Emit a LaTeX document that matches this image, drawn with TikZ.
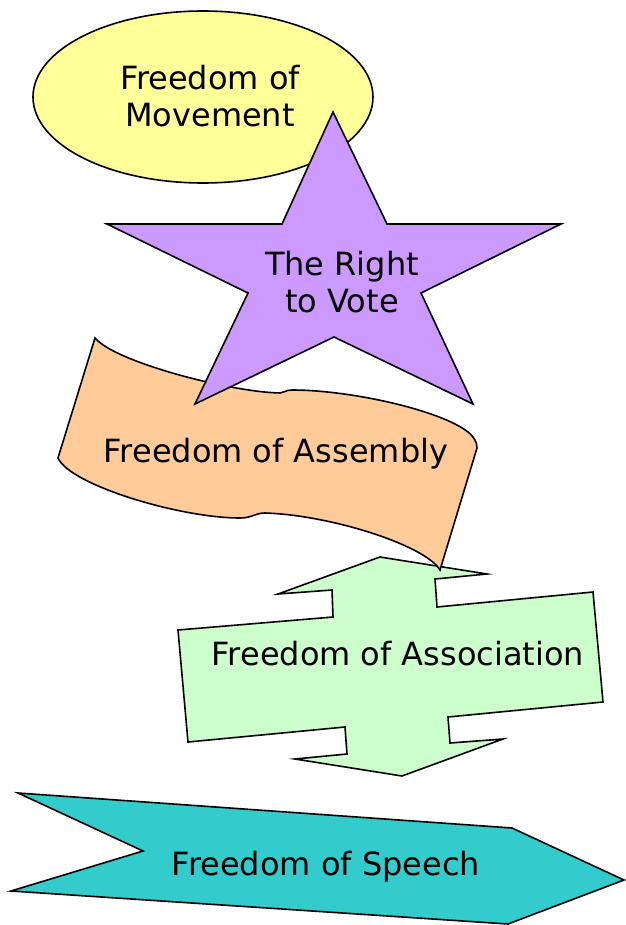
\documentclass[tikz,border=0pt]{standalone}
\usepackage{fontspec}
\setmainfont{DejaVu Sans}
\definecolor{yellowc}{HTML}{FFFF99}
\definecolor{purplec}{HTML}{CC99FF}
\definecolor{orangec}{HTML}{FFCC99}
\definecolor{greenc}{HTML}{CCFFCC}
\definecolor{cyanc}{HTML}{33CCCC}
\begin{document}
\begin{tikzpicture}[x=1pt,y=-1pt,
  shp/.style={draw=black, line width=1.6pt, line join=miter},
  lbl/.style={font=\fontsize{32}{37.5}\selectfont, inner sep=0pt, align=center}]
\useasboundingbox (0,0) rectangle (625,925);
% Freedom of Movement (ellipse)
\draw[shp, fill=yellowc] (203,97) ellipse [x radius=170, y radius=86];
% Freedom of Speech (chevron)
\draw[shp, fill=cyanc] (18,793) -- (512,828) -- (624,880) -- (508,924) -- (11,891) -- (143,851) -- cycle;
% Freedom of Association (up-down arrow)
\draw[shp, fill=greenc] (380,557) -- (487,574) -- (435,579) -- (437,607) -- (593,592) -- (603,702)
  -- (448,717) -- (450,743) -- (503,739) -- (402,776) -- (295,759) -- (347,754) -- (345,727)
  -- (188,742) -- (178,630) -- (333,617) -- (332,590) -- (278,594) -- cycle;
% Freedom of Assembly (wave)
\draw[shp, fill=orangec] (95,338) .. controls (115,362) and (230,392) .. (280,393)
  .. controls (284,393) and (285,390) .. (292,390)
  .. controls (350,390) and (440,410) .. (468,432)
  .. controls (474,437) and (477,442) .. (477,448)
  -- (440,570)
  .. controls (425,545) and (330,515) .. (265,513)
  .. controls (255,513) and (252,518) .. (240,518)
  .. controls (180,518) and (70,485) .. (58,458) -- cycle;
% The Right to Vote (star)
\draw[shp, fill=purplec] (333,112) -- (387,224) -- (561,224) -- (421,293) -- (473,404) -- (334,337)
  -- (195,404) -- (248,293) -- (107,224) -- (282,224) -- cycle;
% labels
\node[lbl] (movement) at (210,96) {Freedom of\\Movement};
\node[lbl] (vote) at (342,282) {The Right\\to Vote};
\node[lbl, anchor=base] (assembly) at (276,462) {Freedom of Assembly};
\node[lbl, anchor=base] (association) at (398,665) {Freedom of Association};
\node[lbl, anchor=base] (speech) at (326,875) {Freedom of Speech};
\end{tikzpicture}
\end{document}
